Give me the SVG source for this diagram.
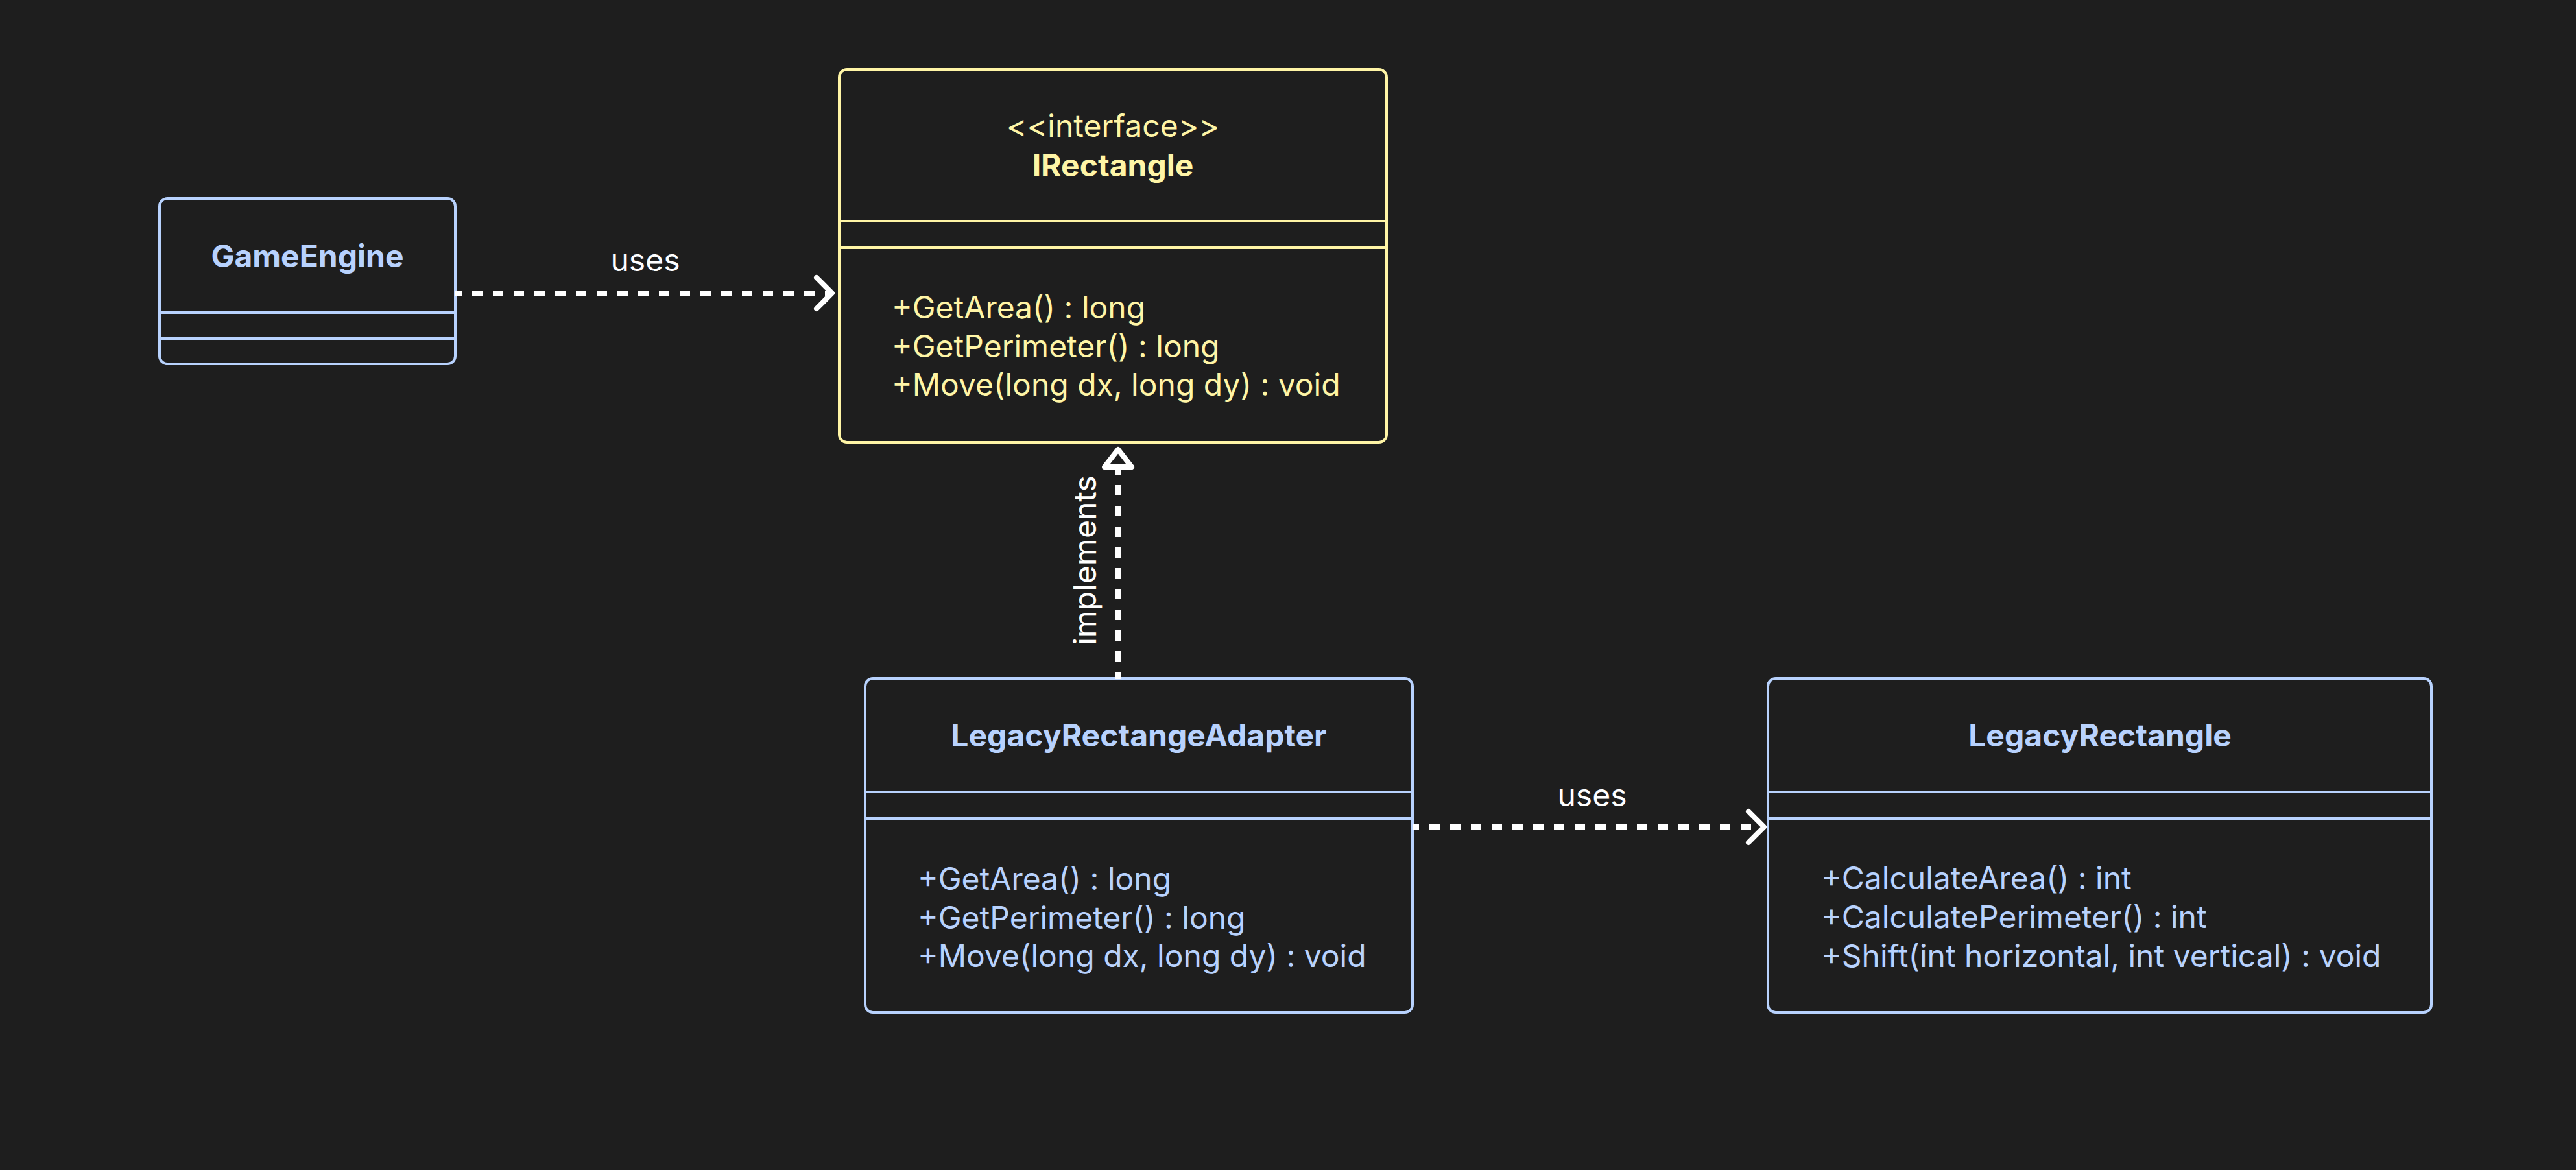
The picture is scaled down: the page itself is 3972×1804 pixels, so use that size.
<svg xmlns="http://www.w3.org/2000/svg" width="3972" height="1804" viewBox="0 0 3972 1804">
<style>
.bg{fill:#1e1e1e}
.box{fill:#1e1e1e;stroke-width:4}
.blue{stroke:#b8d2fd}
.yel{stroke:#fff5a6}
.tb{fill:#b8d2fd}
.ty{fill:#fff5a6}
.title{font-family:Inter,"Noto Sans",sans-serif;font-size:48px;font-weight:700;text-anchor:middle}
.stereo{font-family:Inter,"Noto Sans",sans-serif;font-size:48px;text-anchor:middle}
.m{font-family:Inter,"Noto Sans",sans-serif;font-size:48px}
.lbl{font-family:Inter,"Noto Sans",sans-serif;font-size:48px;fill:#ffffff;text-anchor:middle}
.dash{fill:none;stroke:#ffffff;stroke-width:8;stroke-dasharray:16 16}
.head{fill:none;stroke:#ffffff;stroke-width:8;stroke-linecap:round;stroke-linejoin:round}
</style>
<rect class="bg" x="0" y="0" width="3972" height="1804"/>

<g id="GameEngine">
<rect class="box blue" x="246" y="306" width="456" height="255" rx="12"/>
<line class="blue" stroke-width="4" x1="246" y1="482" x2="702" y2="482"/>
<line class="blue" stroke-width="4" x1="246" y1="522" x2="702" y2="522"/>
<text class="title tb" x="474" y="412">GameEngine</text>
</g>

<g id="IRectangle">
<rect class="box yel" x="1294" y="107" width="844" height="575" rx="12"/>
<line class="yel" stroke-width="4" x1="1294" y1="341" x2="2138" y2="341"/>
<line class="yel" stroke-width="4" x1="1294" y1="382" x2="2138" y2="382"/>
<text class="stereo ty" x="1716" y="211">&lt;&lt;interface&gt;&gt;</text>
<text class="title ty" x="1716" y="272">IRectangle</text>
<text class="m ty" x="1375" y="491">+GetArea() : long</text>
<text class="m ty" x="1375" y="551">+GetPerimeter() : long</text>
<text class="m ty" x="1375" y="610">+Move(long dx, long dy) : void</text>
</g>

<g id="LegacyRectangeAdapter">
<rect class="box blue" x="1334" y="1046" width="844" height="515" rx="12"/>
<line class="blue" stroke-width="4" x1="1334" y1="1221" x2="2178" y2="1221"/>
<line class="blue" stroke-width="4" x1="1334" y1="1262" x2="2178" y2="1262"/>
<text class="title tb" x="1756" y="1151">LegacyRectangeAdapter</text>
<text class="m tb" x="1415" y="1372">+GetArea() : long</text>
<text class="m tb" x="1415" y="1432">+GetPerimeter() : long</text>
<text class="m tb" x="1415" y="1491">+Move(long dx, long dy) : void</text>
</g>

<g id="LegacyRectangle">
<rect class="box blue" x="2726" y="1046" width="1023" height="515" rx="12"/>
<line class="blue" stroke-width="4" x1="2726" y1="1221" x2="3749" y2="1221"/>
<line class="blue" stroke-width="4" x1="2726" y1="1262" x2="3749" y2="1262"/>
<text class="title tb" x="3238" y="1151">LegacyRectangle</text>
<text class="m tb" x="2808" y="1371">+CalculateArea() : int</text>
<text class="m tb" x="2808" y="1431">+CalculatePerimeter() : int</text>
<text class="m tb" x="2808" y="1491">+Shift(int horizontal, int vertical) : void</text>
</g>

<g id="connectors">
<line class="dash" x1="702" y1="452" x2="1282" y2="452" stroke-dashoffset="6"/>
<polyline class="head" points="1259,428 1283,452 1259,476"/>
<text class="lbl" x="995" y="418">uses</text>

<line class="dash" x1="1724" y1="1047" x2="1724" y2="724" stroke-dashoffset="5"/>
<polygon class="head" points="1724,693 1745,720 1703,720" style="fill:#1e1e1e"/>
<text class="lbl" transform="translate(1690,864) rotate(-90)">implements</text>

<line class="dash" x1="2178" y1="1275" x2="2718" y2="1275" stroke-dashoffset="6"/>
<polyline class="head" points="2696,1251 2720,1275 2696,1299"/>
<text class="lbl" x="2455" y="1243">uses</text>
</g>
</svg>
